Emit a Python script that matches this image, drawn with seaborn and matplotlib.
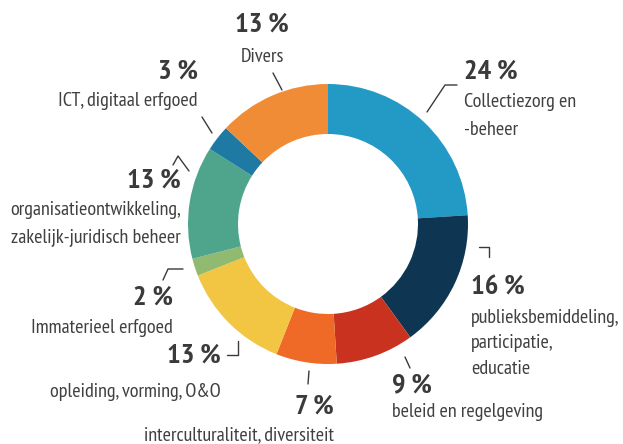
import matplotlib
matplotlib.use("Agg")
import matplotlib.pyplot as plt
import seaborn as sns

# data, clockwise from 12 o'clock
categorieen = [
    "Collectiezorg en\n-beheer",
    "publieksbemiddeling,\nparticipatie,\neducatie",
    "beleid en regelgeving",
    "interculturaliteit, diversiteit",
    "opleiding, vorming, O&O",
    "Immaterieel erfgoed",
    "organisatieontwikkeling,\nzakelijk-juridisch beheer",
    "ICT, digitaal erfgoed",
    "Divers",
]
percentages = [24, 16, 9, 7, 13, 2, 13, 3, 13]
kleuren = ["#2399c6", "#0e3652", "#c8321f", "#ef6a26", "#f2c543",
           "#8fba6f", "#4ea58c", "#1f7aa3", "#f08c36"]

sns.set_theme(style="white")
plt.rcParams["font.family"] = ["PT Sans Narrow", "Fira Sans Condensed", "DejaVu Sans"]

W, H = 623, 444
fig = plt.figure(figsize=(W / 100, H / 100), dpi=100)
ax = fig.add_axes([0, 0, 1, 1])

cx, cy, r = 328, H - 224, 140
ax.pie(percentages, colors=sns.color_palette(kleuren), startangle=90,
       counterclock=False, center=(cx, cy), radius=r,
       wedgeprops=dict(width=50, edgecolor="none"))
ax.set_xlim(0, W)
ax.set_ylim(0, H)
ax.set_aspect("equal")
ax.axis("off")

tekst = "#3a3a3a"

# label layout: (x, y of percentage, ha, y of first text line, line step) in pixels from top-left
labels = [
    (464, 72, "left", 102, 28),
    (471, 288, "left", 318, 25.5),
    (392, 385, "left", 412, 0),
    (334, 407, "right", 435, 0),
    (221, 356, "right", 392, 0),
    (173, 298, "right", 328, 0),
    (181, 181, "right", 210, 27),
    (198, 72, "right", 101, 0),
    (262, 25, "center", 57, 0),
]

for (x, y, ha, ty, step), pct, naam in zip(labels, percentages, categorieen):
    ax.text(x, H - y, f"{pct} %", ha=ha, va="center", fontsize=20.5,
            fontweight="bold", color=tekst)
    for i, regel in enumerate(naam.split("\n")):
        ax.text(x, H - ty - i * step, regel, ha=ha, va="center",
                fontsize=14.5, color="#404040")

# leader lines in pixel coordinates
leaders = [
    [(427, 112), (445, 85), (457, 85)],
    [(479, 247), (489, 247), (489, 257)],
    [(405, 357), (410, 368)],
    [(309, 371), (308, 384)],
    [(227, 355), (238, 355), (238, 341)],
    [(163, 280), (168, 269), (183, 269)],
    [(173, 165), (178, 156), (189, 171)],
    [(202, 117), (212, 133)],
    [(273, 73), (282, 90)],
]
for pts in leaders:
    ax.plot([p[0] for p in pts], [H - p[1] for p in pts], color=tekst, lw=1)

fig.savefig("out.png", dpi=100)
